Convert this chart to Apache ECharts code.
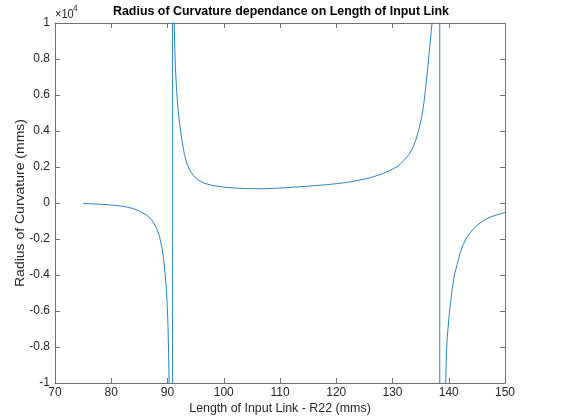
<!DOCTYPE html>
<html><head><meta charset="utf-8">
<script src="https://cdn.jsdelivr.net/npm/echarts@6/dist/echarts.min.js"></script>
<style>html,body{margin:0;padding:0;background:#fff}#c{width:576px;height:420px}</style>
</head><body><div id="c"></div>
<script>
// Length of input link R22 (mms)
const lengthR22 = [75,76,78,80,82,83,84,85,86,86.6,87.2,87.8,88.2,88.6,89,89.3,89.6,89.8,90,90.1,
  90.2,90.3,90.5,90.7,90.9,90.9,91,91.1,91.2,91.3,91.4,91.6,91.8,92,92.5,93,93.5,94,94.6,95.5,
  96.5,98,100,102,104,106,108,110,112,114,116,118,120,122,124,126,128,129.5,131,132,
  132.8,133.5,134.1,134.7,135.2,135.6,136,136.3,136.6,136.9,137.1,137.5,137.9,138.2,138.4,138.4,138.8,139.2,139.46,139.6,
  139.75,140.1,140.6,141,141.5,142,142.5,143.2,144.2,145.2,146.3,147.4,148.5,149.3,150];
// Radius of curvature (mms)
const radiusOfCurvature = [-30,-40,-70,-110,-180,-240,-320,-450,-620,-750,-950,-1250,-1500,-1900,-2450,-3100,-4000,-4800,-6000,-7000,
  -8400,-10200,-16000,-30000,-200000,200000,25000,13000,9700,8500,7600,6300,5500,4800,3600,2700,2150,1800,1520,1280,
  1100,970,880,830,800,790,800,830,870,910,960,1010,1070,1150,1260,1400,1600,1800,2050,2350,
  2640,3000,3450,4100,4800,5600,6700,7600,8600,9600,10200,15000,26000,50000,200000,-200000,-40000,-17000,-10000,-8200,
  -7400,-6150,-4800,-4000,-3400,-2800,-2350,-1900,-1500,-1200,-950,-780,-660,-590,-530];
const xRange = [70, 150], xStep = 10;
const yRange = [-10000, 10000], yStep = 2000;
const yScaleExp = 4;

const FONT = '"Liberation Sans", Arial, Helvetica, sans-serif';
const AX = '#262626';
const chart = echarts.init(document.getElementById('c'), null, {renderer: 'canvas'});
const fmtY = v => { const n = Math.round(v / Math.pow(10, yScaleExp) * 10) / 10; return String(n); };
const baseX = {type: 'value', min: xRange[0], max: xRange[1], interval: xStep,
  axisLine: {show: true, onZero: false, lineStyle: {color: '#707070', width: 1}},
  axisTick: {show: true, inside: true, length: 5, lineStyle: {color: '#707070', width: 1}},
  splitLine: {show: false}};
const baseY = {type: 'value', min: yRange[0], max: yRange[1], interval: yStep,
  axisLine: {show: true, onZero: false, lineStyle: {color: '#707070', width: 1}},
  axisTick: {show: true, inside: true, length: 5, lineStyle: {color: '#707070', width: 1}},
  splitLine: {show: false}};
chart.setOption({
  animation: false,
  backgroundColor: '#fff',
  grid: {left: 55, right: 71, top: 23, bottom: 37, containLabel: false},
  xAxis: [
    Object.assign({}, baseX, {position: 'bottom',
      axisLabel: {show: true, color: AX, fontSize: 12, fontFamily: FONT, margin: 4}}),
    Object.assign({}, baseX, {position: 'top', axisLabel: {show: false}})
  ],
  yAxis: [
    Object.assign({}, baseY, {position: 'left',
      axisLabel: {show: true, color: AX, fontSize: 12, fontFamily: FONT, margin: 5, formatter: fmtY}}),
    Object.assign({}, baseY, {position: 'right', axisLabel: {show: false}})
  ],
  series: [{
    type: 'line', xAxisIndex: 0, yAxisIndex: 0,
    data: lengthR22.map((x, i) => [x, radiusOfCurvature[i]]),
    showSymbol: false, symbol: 'none', clip: true, smooth: false,
    lineStyle: {color: '#2a84c4', width: 1}
  }],
  graphic: [
    {type: 'text', x: 281, y: 11, scaleX: 0.92, silent: true,
      style: {text: 'Radius of Curvature dependance on Length of Input Link', fill: '#000',
        font: 'bold 13.5px ' + FONT, textAlign: 'center', textVerticalAlign: 'middle'}},
    {type: 'text', x: 280, y: 408, scaleX: 0.92, silent: true,
      style: {text: 'Length of Input Link - R22 (mms)', fill: AX,
        font: '13.5px ' + FONT, textAlign: 'center', textVerticalAlign: 'middle'}},
    {type: 'text', x: 20, y: 203, rotation: Math.PI / 2, scaleY: 0.92, silent: true,
      style: {text: 'Radius of Curvature (mms)', fill: AX,
        font: '14px ' + FONT, textAlign: 'center', textVerticalAlign: 'middle'}},
    {type: 'text', x: 55, y: 15, scaleX: 0.92, silent: true,
      style: {text: '×10', fill: AX, font: '12px ' + FONT, textAlign: 'left', textVerticalAlign: 'middle'}},
    {type: 'text', x: 73, y: 9, scaleX: 0.92, silent: true,
      style: {text: String(yScaleExp), fill: AX, font: '9px ' + FONT, textAlign: 'left', textVerticalAlign: 'middle'}}
  ]
});
</script></body></html>
